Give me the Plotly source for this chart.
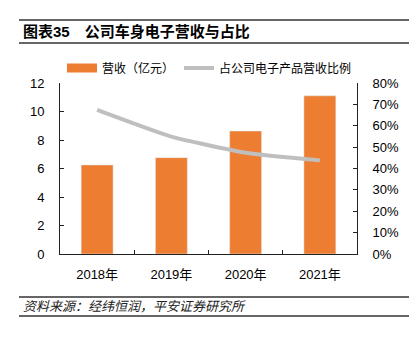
import plotly.graph_objects as go

years = ["2018年", "2019年", "2020年", "2021年"]
revenue = [6.25, 6.76, 8.63, 11.1]
share = [0.674, 0.549, 0.474, 0.438]

rev_name = "营收（亿元）"
share_name = "占公司电子产品营收比例"
title_text = "图表35　公司车身电子营收与占比"
source_text = "资料来源：经纬恒润，平安证券研究所"

FONT = "Liberation Sans, Arial, Noto Sans CJK SC, sans-serif"
ORANGE = "#ED7D31"
GRAY = "#BFBFBF"

fig = go.Figure()
fig.add_trace(go.Bar(x=years, y=revenue, name=rev_name, marker_color=ORANGE,
                     width=0.43, showlegend=False, yaxis="y"))
# legend proxy for bar (wide swatch)
fig.add_trace(go.Scatter(x=[None], y=[None], mode="lines", name=rev_name,
                         line=dict(color=ORANGE, width=9), yaxis="y"))
fig.add_trace(go.Scatter(x=years, y=share, name=share_name, mode="lines",
                         line=dict(color=GRAY, width=4, shape="spline", smoothing=0.5),
                         yaxis="y2"))

W, H = 416, 337
L, R, T, B = 60, 357, 83, 254
pw, ph = R - L, B - T

def px(x):
    return (x - L) / pw

def py(y):
    return (B - y) / ph

shapes = []
for yy in (20, 43, 297, 316):
    shapes.append(dict(type="line", xref="paper", yref="paper",
                       x0=px(19), x1=px(409), y0=py(yy), y1=py(yy),
                       line=dict(color="#333333", width=1.5)))

annotations = [
    dict(text="<b>" + title_text + "</b>", xref="paper", yref="paper",
         x=px(21), y=py(32), xanchor="left", yanchor="middle", showarrow=False,
         font=dict(family=FONT, size=15, color="black")),
    dict(text=source_text, xref="paper", yref="paper",
         x=px(21), y=py(306.5), xanchor="left", yanchor="middle", showarrow=False,
         font=dict(family=FONT, size=13, color="#222222", style="italic")),
]

fig.update_layout(
    width=W, height=H,
    margin=dict(l=L, r=W - R, t=T, b=H - B, pad=0),
    paper_bgcolor="white", plot_bgcolor="white",
    font=dict(family=FONT, size=13, color="black"),
    shapes=shapes, annotations=annotations,
    bargap=0.57,
    legend=dict(orientation="h", x=px(62), y=py(68), xanchor="left", yanchor="middle",
                font=dict(size=12), itemwidth=30, bgcolor="rgba(0,0,0,0)",
                tracegroupgap=0),
    xaxis=dict(type="category", showline=True, linecolor="#222222", linewidth=1,
               ticks="inside", tickson="boundaries", ticklen=4, tickcolor="#222222",
               showgrid=False, tickfont=dict(size=13), ticklabelstandoff=8),
    yaxis=dict(range=[0, 12], dtick=2, showline=True, linecolor="#222222", linewidth=1,
               ticks="inside", ticklen=4, tickcolor="#222222", showgrid=False,
               zeroline=False, ticklabelstandoff=12, tickfont=dict(size=13)),
    yaxis2=dict(range=[0, 0.8], dtick=0.1, tickformat=".0%", overlaying="y", side="right",
                showline=True, linecolor="#222222", linewidth=1, ticks="inside",
                ticklen=4, tickcolor="#222222", showgrid=False, zeroline=False,
                ticklabelstandoff=12, tickfont=dict(size=13)),
)

fig.write_html("out.html")
